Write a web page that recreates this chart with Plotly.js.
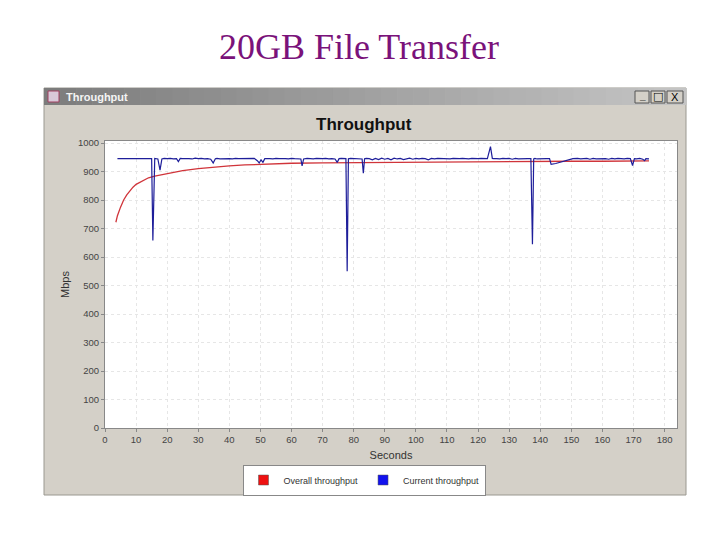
<!DOCTYPE html>
<html>
<head>
<meta charset="utf-8">
<script src="https://cdn.plot.ly/plotly-3.0.1.min.js"></script>
<style>html,body{margin:0;padding:0;background:#fff;}#chart{width:720px;height:540px;}</style>
</head>
<body>
<div id="chart"></div>
<script>
// Overall throughput (red)
const overallSeconds = [3.5,4,5,6,7,8,9,10,12,14,16,18,20,25,30,35,40,45,50,55,60,70,80,90,100,110,120,130,140,150,160,170,175];
const overallMbps = [722,745,775,800,818,833,845,855,868,878,884,888,893,903,910,916,920,923,925,927,929,930,931,931,932,932,933,934,935,936,936,937,937];

// Current throughput (blue)
const currentSeconds = [4,5,6,7,8,9,10,11,12,13,14,15,15.4,15.8,16,17,17.7,18.3,19,20,21,22,23,23.6,24.2,25,26,27,28,29,30,31,32,33,34,34.8,35.5,36,37,38,39,40,41,42,43,44,45,46,47,48,49,49.6,50.2,50.8,51.4,52,53,54,55,56,57,58,59,60,61,62,63,63.4,63.9,65,66,67,68,69,70,71,72,73,74,74.7,75.3,76,77,77.5,77.9,78.3,79,80,81,82,82.7,83.1,83.5,84,85,86,87,88,89,90,91,92,93,94,95,96,97,98,99,100,101,102,103,104,105,106,107,108,109,110,111,112,113,114,115,116,117,118,119,120,121,122,123,124,124.6,125,125.4,126,127,128,129,130,131,132,133,134,135,136,137,137.5,137.9,138.3,139,140,141,142,143,143.5,145,147,149,150.5,152,153,154,155,156,157,158,159,160,161,162,163,164,165,166,167,168,169,169.7,170.3,171,172,173,173.6,174,175];
const currentMbps = [945,945,944,946,945,945,944,946,945,944,945,945,658,942,946,944,905,944,946,945,946,944,945,935,946,945,946,945,944,947,945,946,944,945,943,930,945,946,944,945,946,945,944,946,945,945,946,944,945,946,938,930,941,932,945,946,945,944,946,945,946,945,944,946,945,945,944,920,944,946,945,944,946,945,945,946,944,945,944,932,945,946,945,945,550,945,946,945,944,945,944,894,945,946,945,941,946,942,947,943,946,941,947,944,946,942,945,947,943,946,944,946,945,941,946,944,946,945,946,945,944,946,945,945,946,945,944,946,945,945,946,945,945,987,946,945,946,945,944,946,945,946,943,946,944,945,946,945,945,645,944,946,944,945,946,945,945,925,928,934,940,945,946,944,945,946,943,946,944,945,946,945,943,946,944,946,945,944,946,945,921,945,944,946,943,938,945,944];

const seriesNames = ['Overall throughput','Current throughput'];
const xTickVals = [0,10,20,30,40,50,60,70,80,90,100,110,120,130,140,150,160,170,180];
const yTickVals = [0,100,200,300,400,500,600,700,800,900,1000];

// pixel -> paper helpers (plot area: x 105..677, y 141..428)
const L = 105, R = 677, T = 141, B = 428;
const px = v => (v - L) / (R - L);
const py = v => (B - v) / (B - T);

const traces = [
  {x: overallSeconds, y: overallMbps, type: 'scatter', mode: 'lines', name: seriesNames[0],
   line: {color: '#d0343a', width: 1.3}, showlegend: false, hoverinfo: 'skip'},
  {x: currentSeconds, y: currentMbps, type: 'scatter', mode: 'lines', name: seriesNames[1],
   line: {color: '#1e1e9a', width: 1.2}, showlegend: false, hoverinfo: 'skip'},
  {x: [null], y: [null], type: 'scatter', mode: 'markers', name: seriesNames[0],
   marker: {symbol: 'square', size: 10, color: '#ee1111', line: {color: '#555', width: 0.5}}},
  {x: [null], y: [null], type: 'scatter', mode: 'markers', name: seriesNames[1],
   marker: {symbol: 'square', size: 10, color: '#1111ee', line: {color: '#555', width: 0.5}}}
];

const shapes = [];
// window body
shapes.push({type:'rect', xref:'paper', yref:'paper', x0:px(44), x1:px(686), y0:py(495), y1:py(88),
  fillcolor:'#d4d0c8', line:{color:'#9a9890', width:1}, layer:'below'});
// title bar gradient
const gradSteps = 40;
const tbw = (686 - 44) / gradSteps;
for (let i = 0; i < gradSteps; i++) {
  const g = Math.round(0x7c + (0xc4 - 0x7c) * i / (gradSteps - 1));
  const c = 'rgb(' + g + ',' + g + ',' + g + ')';
  shapes.push({type:'rect', xref:'paper', yref:'paper', x0:px(44 + i*tbw), x1:px(44 + (i+1)*tbw + 0.6),
    y0:py(105), y1:py(88), fillcolor:c, line:{width:0}, layer:'below'});
}
// window buttons
[[635,649],[651,665],[667,683]].forEach(b => {
  shapes.push({type:'rect', xref:'paper', yref:'paper', x0:px(b[0]), x1:px(b[1]), y0:py(103), y1:py(91),
    fillcolor:'#d4d0c8', line:{color:'#555', width:1}, layer:'below'});
});
// icon
shapes.push({type:'rect', xref:'paper', yref:'paper', x0:px(48), x1:px(59), y0:py(102), y1:py(91),
  fillcolor:'#d8c8d8', line:{color:'#a04060', width:1}, layer:'below'});
// plot area background
shapes.push({type:'rect', xref:'paper', yref:'paper', x0:0, x1:1, y0:0, y1:1,
  fillcolor:'#ffffff', line:{width:0}, layer:'below'});

const annotations = [
  {text:'20GB File Transfer', xref:'paper', yref:'paper', x:px(359), y:py(47), showarrow:false,
   font:{family:'Liberation Serif, Times New Roman, serif', size:36, color:'#7a127a'}, xanchor:'center', yanchor:'middle'},
  {text:'<b>Throughput</b>', xref:'paper', yref:'paper', x:px(64), y:py(97), showarrow:false,
   font:{family:'Liberation Sans, Arial, sans-serif', size:11, color:'#f4f4f4'}, xanchor:'left', yanchor:'middle'},
  {text:'<b>_</b>', xref:'paper', yref:'paper', x:px(642), y:py(96), showarrow:false,
   font:{family:'Liberation Sans, Arial, sans-serif', size:10, color:'#000'}, xanchor:'center', yanchor:'middle'},
  {text:'□', xref:'paper', yref:'paper', x:px(658), y:py(97), showarrow:false,
   font:{family:'DejaVu Sans, sans-serif', size:11, color:'#000'}, xanchor:'center', yanchor:'middle'},
  {text:'X', xref:'paper', yref:'paper', x:px(675), y:py(97), showarrow:false,
   font:{family:'Liberation Sans, Arial, sans-serif', size:11, color:'#000'}, xanchor:'center', yanchor:'middle'},
  {text:'<b>Throughput</b>', xref:'paper', yref:'paper', x:px(364), y:py(124), showarrow:false,
   font:{family:'Liberation Sans, Arial, sans-serif', size:17, color:'#111'}, xanchor:'center', yanchor:'middle'}
];

const axisFont = {family:'Liberation Sans, Arial, sans-serif', size:9.5, color:'#444'};

const layout = {
  width: 720, height: 540,
  margin: {l: L, r: 720 - R, t: T, b: 540 - B, pad: 0},
  paper_bgcolor: '#ffffff',
  plot_bgcolor: '#ffffff',
  showlegend: true,
  legend: {orientation:'h', x:px(364), xanchor:'center', y:py(480), yanchor:'middle',
    bgcolor:'#ffffff', bordercolor:'#888', borderwidth:1,
    font:{family:'Liberation Sans, Arial, sans-serif', size:9, color:'#333'},
    itemwidth: 30, tracegroupgap: 0},
  xaxis: {range:[0,184], tickvals:xTickVals, ticks:'outside', ticklen:3, tickcolor:'#888',
    tickfont:axisFont, showline:true, linecolor:'#888', linewidth:1, mirror:true,
    showgrid:true, gridcolor:'#e6e6e6', griddash:'dot', zeroline:false,
    title:{text:'Seconds', font:{family:'Liberation Sans, Arial, sans-serif', size:11, color:'#333'}, standoff:6}},
  yaxis: {range:[0,1007], tickvals:yTickVals, ticks:'outside', ticklen:3, tickcolor:'#888',
    tickfont:axisFont, showline:true, linecolor:'#888', linewidth:1, mirror:true,
    showgrid:true, gridcolor:'#e6e6e6', griddash:'dot', zeroline:false,
    title:{text:'Mbps', font:{family:'Liberation Sans, Arial, sans-serif', size:11, color:'#333'}, standoff:6}},
  shapes: shapes,
  annotations: annotations
};

Plotly.newPlot('chart', traces, layout, {staticPlot: true, displayModeBar: false});
</script>
</body>
</html>
